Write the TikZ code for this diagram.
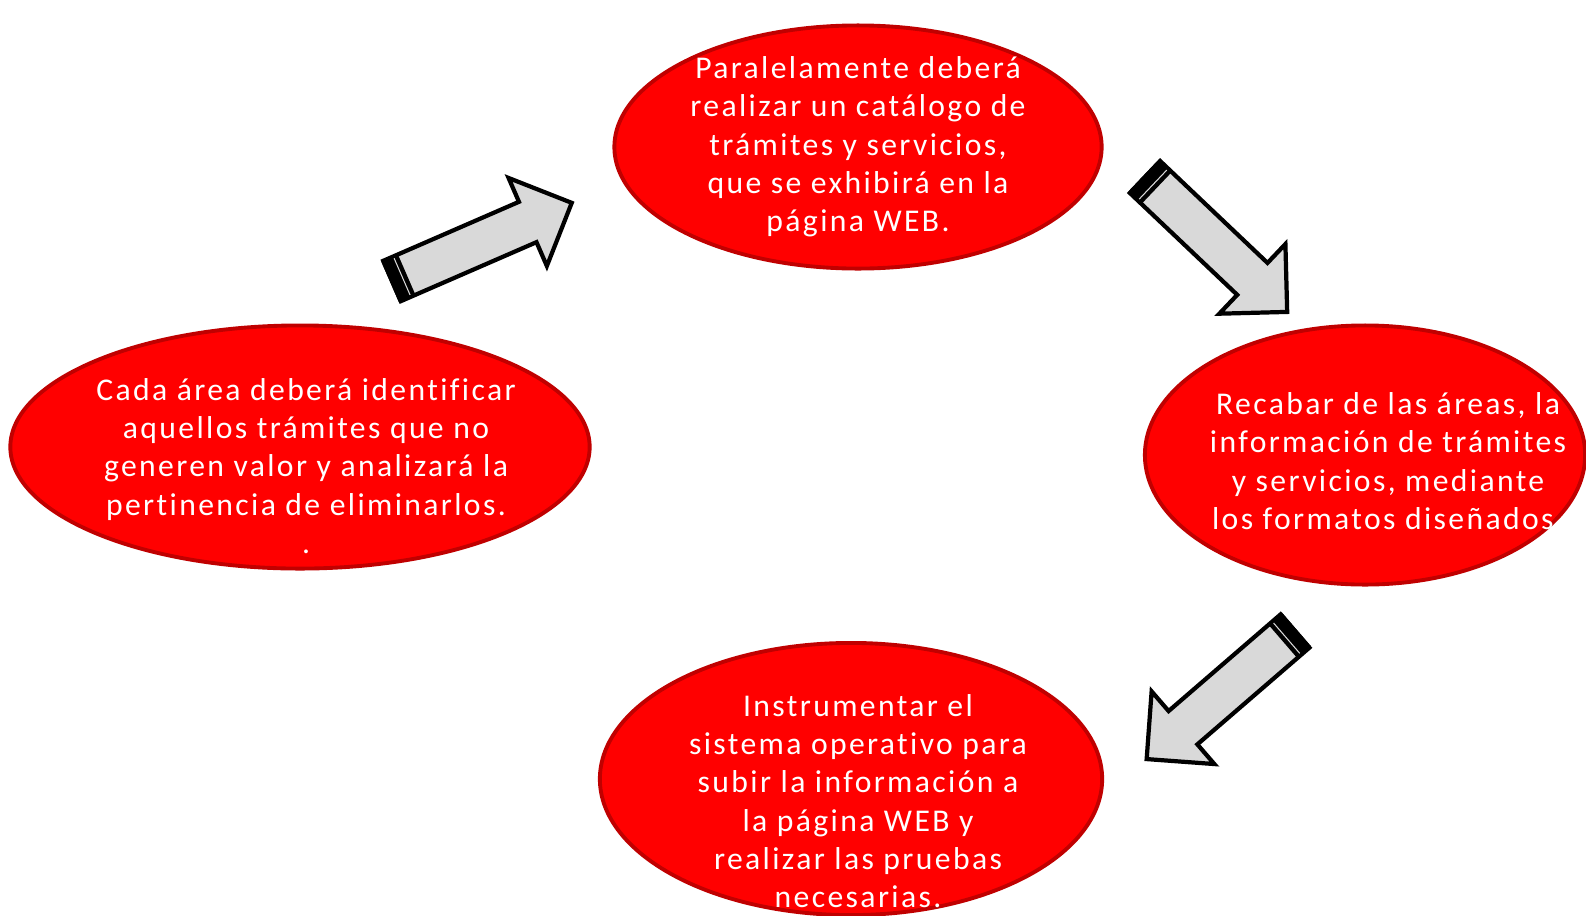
\documentclass[tikz,border=0pt]{standalone}
\usepackage{fontspec}
\setmainfont[LetterSpace=7.5, Ligatures={NoCommon}]{Carlito}
\usetikzlibrary{shapes.geometric}
\definecolor{blobred}{RGB}{255,0,0}
\definecolor{blobedge}{RGB}{192,0,0}
\definecolor{arrowgray}{RGB}{217,217,217}
\tikzset{
  blob/.style={ellipse, fill=blobred, draw=blobedge, line width=1.1pt, inner sep=0pt},
  txt/.style={align=center, text=white, font=\fontsize{9}{10.9}\selectfont},
  fatarrow/.style={fill=arrowgray, draw=black, line width=1.2pt, line join=miter}
}
\begin{document}
\begin{tikzpicture}[x=0.01cm, y=-0.01cm]
        \useasboundingbox (0,0) rectangle (1586,915);
        \node[blob, minimum width=4.87cm, minimum height=2.43cm] (paralelo) at (858,147) {};
        \node[blob, minimum width=5.79cm, minimum height=2.43cm] (cada) at (300,447) {};
        \node[blob, minimum width=4.40cm, minimum height=2.59cm] (recabar) at (1365,455) {};
        \node[blob, minimum width=5.02cm, minimum height=2.72cm] (instrumentar) at (851,779) {};
        \node[txt] (paralelotxt) at (858,147) {Paralelamente deberá\\ realizar un catálogo de\\ trámites y servicios,\\ que se exhibirá en la\\ página WEB.};
        \node[txt] (cadatxt) at (306,466) {Cada área deberá identificar\\ aquellos trámites que no\\ generen valor y analizará la\\ pertinencia de eliminarlos.\\ .};
        \node[txt] (recabartxt) at (1388,461) {Recabar de las áreas, la\\ información de trámites\\ y servicios, mediante\\ los formatos diseñados.};
        \node[txt] (instrumentartxt) at (858,801) {Instrumentar el\\ sistema operativo para\\ subir la información a\\ la página WEB y\\ realizar las pruebas\\ necesarias.};
        \coordinate (uno) at (392,281);
        \coordinate (dos) at (1145,177);
        \coordinate (tres) at (1295,631);
        \foreach \c/\a in {uno/23.5, dos/-43.5, tres/-139.2} {
            \begin{scope}[shift={(\c)}, rotate=\a]
                \draw[fatarrow] (0,-22) -- (148,-22) -- (148,-48) -- (196,0) -- (148,48) -- (148,22) -- (0,22) -- cycle;
                \fill[black] (0,-22) rectangle (16,22);
                \draw[black, line width=1.2pt] (0,-22) -- (0,22);
                \draw[arrowgray, line width=0.3pt] (11,-20) -- (11,20);
            \end{scope}
        }
    \end{tikzpicture}
\end{document}
